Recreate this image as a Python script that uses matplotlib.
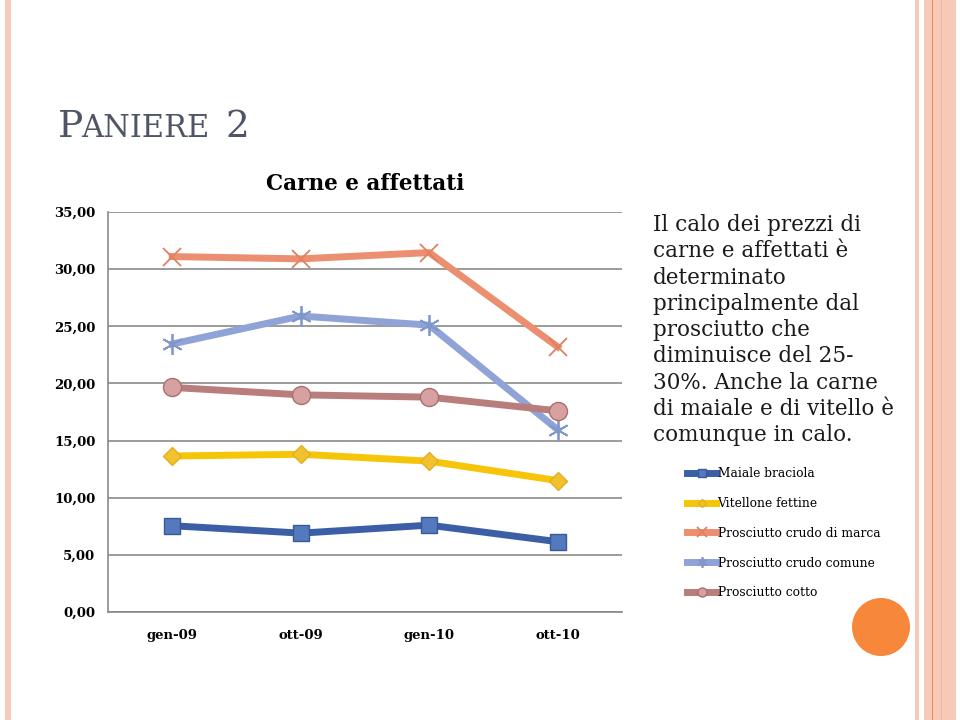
import matplotlib

matplotlib.use("Agg")
import matplotlib.pyplot as plt
from matplotlib.patches import Ellipse, Rectangle

months = ["gen-09", "ott-09", "gen-10", "ott-10"]
maiale_braciola = [7.55, 6.9, 7.6, 6.15]
vitellone_fettine = [13.65, 13.8, 13.2, 11.5]
crudo_marca = [31.1, 30.9, 31.45, 23.2]
crudo_comune = [23.45, 25.9, 25.1, 15.95]
prosciutto_cotto = [19.65, 19.0, 18.8, 17.6]
yticks = [0, 5, 10, 15, 20, 25, 30, 35]

series = [
    ("Maiale braciola", maiale_braciola, "#3b5ea6", "s", "#5479bd", "#3a5a96", 12),
    ("Vitellone fettine", vitellone_fettine, "#f7c508", "D", "#f2c12e", "#e0b020", 9),
    ("Prosciutto crudo di marca", crudo_marca, "#ec8f70", "x", "#ec8f70", "#e08060", 13),
    ("Prosciutto crudo comune", crudo_comune, "#8fa3d6", (6, 2, 0), "#8fa3d6", "#8096cc", 15),
    ("Prosciutto cotto", prosciutto_cotto, "#b97d7b", "o", "#d6a1a0", "#a8706e", 13),
]

serif = "DejaVu Serif"

fig = plt.figure(figsize=(9.6, 7.2), dpi=100)
fig.patch.set_facecolor("white")

# decorative page elements
fig.add_artist(Rectangle((5 / 960, 0), 6 / 960, 1, transform=fig.transFigure,
                         color="#f7cbbb", lw=0))
fig.add_artist(Rectangle((914.5 / 960, 0), 4.5 / 960, 1, transform=fig.transFigure,
                         color="#f6c9b8", lw=0))
fig.add_artist(Rectangle((924 / 960, 0), 32 / 960, 1, transform=fig.transFigure,
                         color="#f6c9b8", lw=0))
fig.add_artist(Rectangle((931.5 / 960, 0), 1.5 / 960, 1, transform=fig.transFigure,
                         color="#ee8a50", lw=0))
fig.add_artist(Rectangle((940.5 / 960, 0), 1 / 960, 1, transform=fig.transFigure,
                         color="#efb8a4", lw=0))
fig.add_artist(Ellipse((881 / 960, 1 - 627 / 720), 58 / 960, 58 / 720,
                       transform=fig.transFigure, color="#f7873a", lw=0))

# slide title in small caps
title_y = 1 - 137 / 720
fig.text(58 / 960, title_y, "P", fontsize=27, family=serif, color="#4e5565",
         va="baseline")
fig.text(81 / 960, title_y, "ANIERE", fontsize=22, family=serif, color="#4e5565",
         va="baseline")
fig.text(226 / 960, title_y, "2", fontsize=27, family=serif, color="#4e5565",
         va="baseline")

ax = fig.add_axes([108 / 960, 1 - 612 / 720, 514 / 960, 400 / 720])
x = range(len(months))
for name, vals, color, marker, mfc, mec, ms in series:
    mew = 1.0 if marker in ("s", "D", "o") else 1.3
    ax.plot(x, vals, color=color, lw=5, marker=marker, ms=ms, mfc=mfc, mec=mec,
            mew=mew, label=name, solid_joinstyle="round", zorder=3)

ax.set_xlim(-0.5, 3.5)
ax.set_ylim(0, 35)
ax.set_yticks(yticks)
ax.set_yticklabels([f"{v:.2f}".replace(".", ",") for v in yticks],
                   family=serif, fontweight="bold", fontsize=9.5)
ax.set_xticks(list(x))
ax.set_xticklabels(months, family=serif, fontweight="bold", fontsize=9.5)
ax.tick_params(axis="x", length=0, pad=12)
ax.tick_params(axis="y", length=0, pad=9)
ax.grid(axis="y", color="#8a8a8a", lw=1.2)
ax.set_axisbelow(True)
for side in ("top", "right"):
    ax.spines[side].set_visible(False)
for side in ("left", "bottom"):
    ax.spines[side].set_color("#8a8a8a")
    ax.spines[side].set_linewidth(1.2)
ax.set_title("Carne e affettati", family=serif, fontweight="bold", fontsize=15.5,
             pad=16)

body = ("Il calo dei prezzi di\ncarne e affettati è\ndeterminato\n"
        "principalmente dal\nprosciutto che\ndiminuisce del 25-\n"
        "30%. Anche la carne\ndi maiale e di vitello è\ncomunque in calo.")
fig.text(653 / 960, 1 - 214 / 720, body, family=serif, fontsize=15.5,
         va="top", ha="left", linespacing=1.25, color="#1a1a1a")

handles, labels = ax.get_legend_handles_labels()
leg = fig.legend(handles, labels, loc="upper left",
                 bbox_to_anchor=(676 / 960, 1 - 456 / 720), frameon=False,
                 prop={"family": serif, "size": 8.8}, handlelength=2.4,
                 handletextpad=0.1, labelspacing=1.38, markerscale=0.5)

fig.savefig("out.png", dpi=100)
